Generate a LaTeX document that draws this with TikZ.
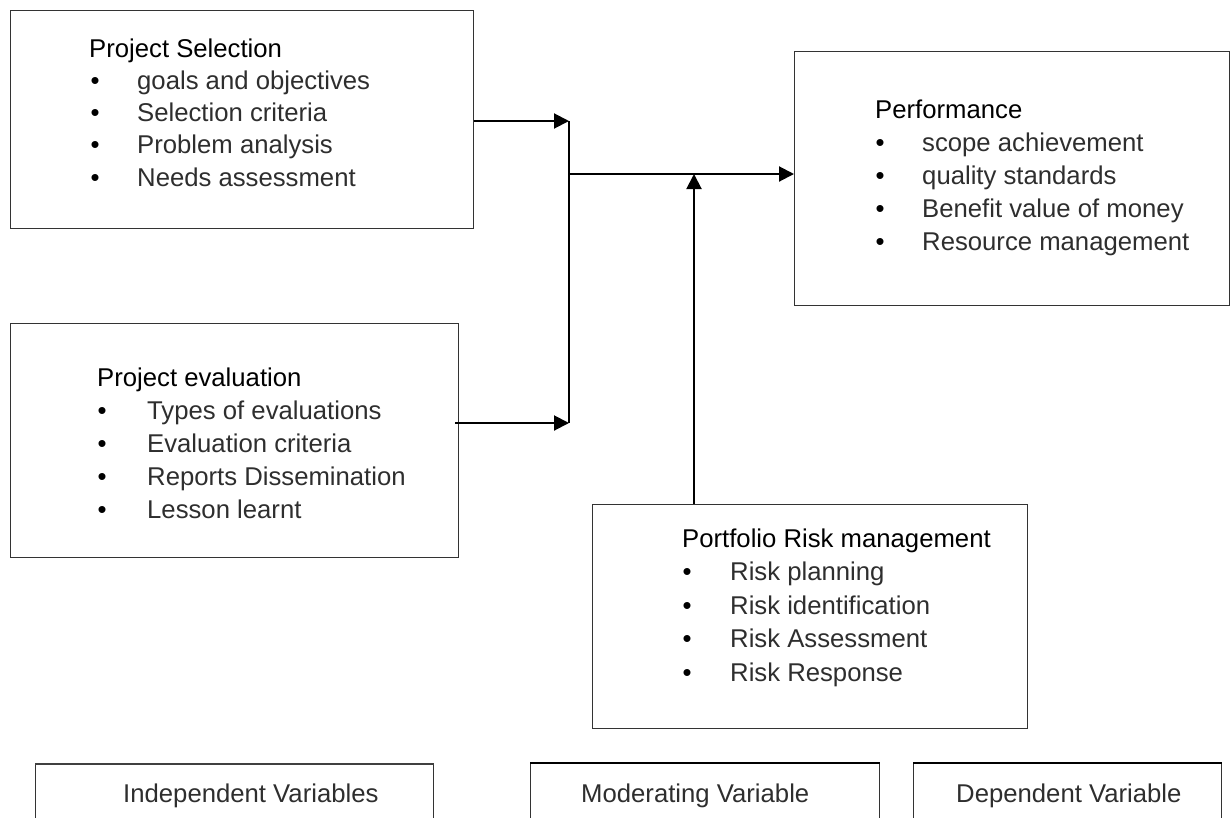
\documentclass[tikz,border=0pt]{standalone}
\usepackage{fontspec}
\setmainfont{Liberation Sans}
\usetikzlibrary{arrows.meta}
\tikzset{
  box/.style={draw=black!80, line width=1.2pt, anchor=north west, inner sep=0pt},
  lbl/.style={anchor=base west, inner sep=0pt, text=black!82,
              font=\fontsize{25.7}{30}\selectfont},
  head/.style={lbl, text=black},
  dot/.style={anchor=base, inner sep=0pt, font=\fontsize{25.7}{30}\selectfont},
  arr/.style={line width=2pt, -{Triangle[length=15pt,width=15pt]}},
  link/.style={line width=1.2pt},
  topedge/.style={line width=2pt},
}
\begin{document}
\begin{tikzpicture}[x=1pt,y=-1pt]
\useasboundingbox (0,0) rectangle (1231,817);

% main boxes
\node[box, minimum width=463pt, minimum height=218pt] (sel) at (10,10) {};
\node[box, minimum width=448pt, minimum height=234pt] (eva) at (10,323) {};
\node[box, minimum width=435pt, minimum height=254pt] (per) at (794,51) {};
\node[box, minimum width=435pt, minimum height=224pt] (rsk) at (592,504) {};

% Project Selection
\node[head] (sel-h) at (89,57) {Project Selection};
\foreach \t [count=\i] in {goals and objectives, Selection criteria,
    Problem analysis, Needs assessment}{
  \node[dot] (sel-b\i) at (95,57+32.3*\i) {\textbullet};
  \node[lbl] (sel-\i) at (137,57+32.3*\i) {\t};
}

% Project evaluation
\node[head] (eva-h) at (97,386) {Project evaluation};
\foreach \t [count=\i] in {Types of evaluations, Evaluation criteria,
    Reports Dissemination, Lesson learnt}{
  \node[dot] (eva-b\i) at (102,386+33*\i) {\textbullet};
  \node[lbl] (eva-\i) at (147,386+33*\i) {\t};
}

% Performance
\node[head] (per-h) at (875,118) {Performance};
\foreach \t [count=\i] in {scope achievement, quality standards,
    Benefit value of money, Resource management}{
  \node[dot] (per-b\i) at (880,118+33*\i) {\textbullet};
  \node[lbl] (per-\i) at (922,118+33*\i) {\t};
}

% Portfolio Risk management
\node[head] (rsk-h) at (682,547) {Portfolio Risk management};
\foreach \t [count=\i] in {Risk planning, Risk identification,
    Risk Assessment, Risk Response}{
  \node[dot] (rsk-b\i) at (687,547+33.5*\i) {\textbullet};
  \node[lbl] (rsk-\i) at (730,547+33.5*\i) {\t};
}

% variable legend boxes along the bottom
\node[box, minimum width=398pt, minimum height=80pt] (ind) at (35,764) {};
\node[box, minimum width=349pt, minimum height=80pt] (mod) at (530,763) {};
\node[box, minimum width=308pt, minimum height=80pt] (dep) at (913,763) {};
\draw[topedge, draw=black!75] (ind.north west) -- (ind.north east);
\draw[topedge] (mod.north west) -- (mod.north east);
\draw[topedge] (dep.north west) -- (dep.north east);
\node[lbl] (ind-t) at (123,802) {Independent Variables};
\node[lbl] (mod-t) at (581,802) {Moderating Variable};
\node[lbl] (dep-t) at (956,802) {Dependent Variable};

% connectors
\coordinate (j1) at (569,121);
\coordinate (j2) at (569,423);
\coordinate (jm) at (569,174);
\coordinate (jr) at (694,174);
\draw[arr] (sel.east |- j1) -- (j1);
\draw[arr] ([xshift=-4pt]eva.east |- j2) -- (j2);
\draw[link] (j1) -- (j2);
\draw[arr] (jm) -- (jm -| per.west);
\draw[arr] (jr |- rsk.north) -- (jr);
\end{tikzpicture}
\end{document}
